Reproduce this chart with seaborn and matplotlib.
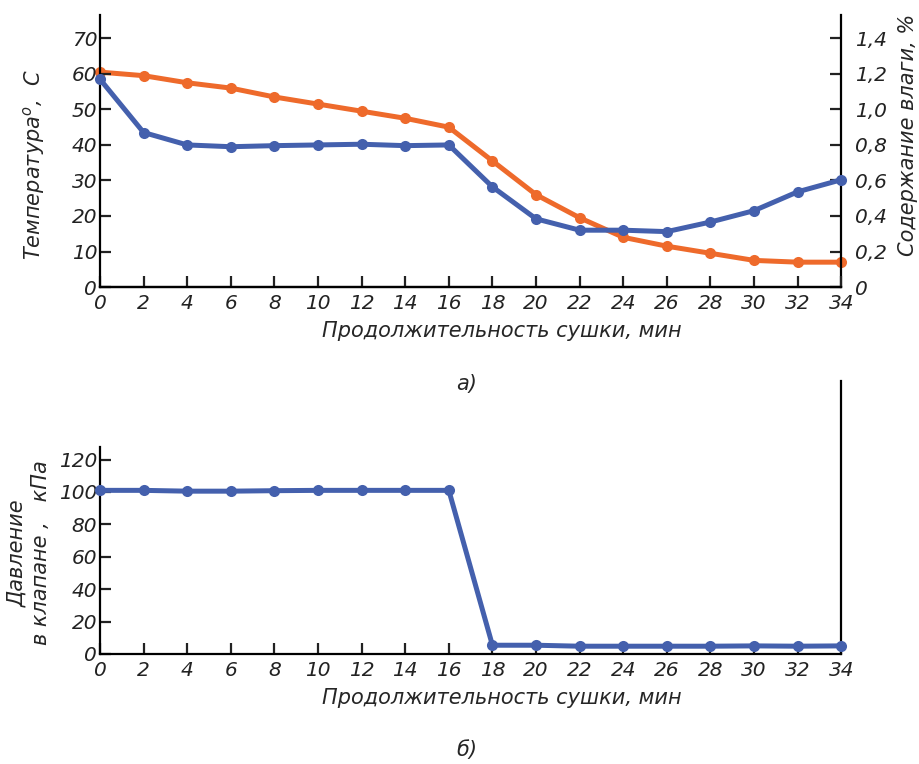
import numpy as np
import pandas as pd
import seaborn as sns
import matplotlib.pyplot as plt
from matplotlib.ticker import FuncFormatter

# Drying time, min
minutes = [0, 2, 4, 6, 8, 10, 12, 14, 16, 18, 20, 22, 24, 26, 28, 30, 32, 34]

# Top panel: temperature (left axis) and moisture content (right axis)
temperature = [58.5, 43.5, 40.0, 39.5, 39.8, 40.0, 40.2, 39.8, 40.0,
               28.2, 19.2, 16.0, 16.0, 15.6, 18.3, 21.5, 26.8, 30.2]
moisture = [1.21, 1.19, 1.15, 1.12, 1.07, 1.03, 0.99, 0.95, 0.90,
            0.71, 0.52, 0.39, 0.28, 0.23, 0.19, 0.15, 0.14, 0.14]

# Bottom panel: valve pressure, kPa
pressure = [101, 101, 100.5, 100.5, 100.8, 101, 101, 101, 101,
            5.4, 5.4, 4.8, 4.8, 4.8, 4.8, 5.0, 4.8, 5.0]

temp_ticks = [0, 10, 20, 30, 40, 50, 60, 70]
moist_ticks = [0, 0.2, 0.4, 0.6, 0.8, 1.0, 1.2, 1.4]
press_ticks = [0, 20, 40, 60, 80, 100, 120]

blue = "#4460ad"
orange = "#ee6a2b"
fs = 14.5
lfs = 15

sns.set_style("ticks")
plt.rcParams["font.family"] = ["DejaVu Sans"]
plt.rcParams["font.style"] = "italic"
plt.rcParams["mathtext.fontset"] = "dejavusans"

df = pd.DataFrame({"t": minutes, "temp": temperature,
                   "moist": moisture, "press": pressure})

fig = plt.figure(figsize=(9.2, 7.64), dpi=100)
ax_top = fig.add_axes([0.1087, 0.6243, 0.8057, 0.3557])
ax_bot = fig.add_axes([0.1087, 0.1440, 0.8057, 0.3573])

line_kw = dict(marker="o", linewidth=3.6, markersize=8, markeredgewidth=0,
               legend=False, clip_on=False)

# ---- top panel ----
sns.lineplot(data=df, x="t", y="temp", color=blue, ax=ax_top, zorder=3, **line_kw)
ax_r = ax_top.twinx()
sns.lineplot(data=df, x="t", y="moist", color=orange, ax=ax_r, zorder=2, **line_kw)
ax_top.set_zorder(ax_r.get_zorder() + 1)
ax_top.patch.set_visible(False)

ax_top.set_xlim(0, 34)
ax_top.set_ylim(0, 76.5)
ax_r.set_ylim(0, 1.53)
ax_top.set_xticks(minutes)
ax_top.set_yticks(temp_ticks)
ax_r.set_yticks(moist_ticks)
ax_r.yaxis.set_major_formatter(
    FuncFormatter(lambda v, p: "0" if v == 0 else f"{v:.1f}".replace(".", ",")))

for a in (ax_top, ax_r):
    a.spines["top"].set_visible(False)
    for s in a.spines.values():
        s.set_linewidth(1.6)
        s.set_color("black")
ax_top.spines["right"].set_visible(False)
ax_r.spines["left"].set_visible(False)

ax_top.tick_params(axis="both", direction="in", length=8, width=1.6,
                   labelsize=fs, colors="#222222", pad=5)
ax_top.tick_params(axis="y", pad=2)
ax_r.tick_params(axis="y", direction="in", length=8, width=1.6,
                 labelsize=fs, colors="#222222", pad=10)

ax_top.set_xlabel("Продолжительность сушки, мин", fontsize=lfs, labelpad=6, x=0.542)
ax_top.set_ylabel(r"Температура$^{o}$,  C", fontsize=lfs, labelpad=18, y=0.45)
ax_r.set_ylabel("Содержание влаги, %", fontsize=lfs, labelpad=8, y=0.56)

fig.text(0.507, 0.497, "а)", fontsize=lfs, ha="center", va="center")

# ---- bottom panel ----
sns.lineplot(data=df, x="t", y="press", color=blue, ax=ax_bot, zorder=3, **line_kw)
ax_bot.set_xlim(0, 34)
ax_bot.set_ylim(0, 168.5)
ax_bot.set_xticks(minutes)
ax_bot.set_yticks(press_ticks)
ax_bot.spines["top"].set_visible(False)
for s in ax_bot.spines.values():
    s.set_linewidth(1.6)
    s.set_color("black")
ax_bot.spines["left"].set_bounds(0, 128)
ax_bot.tick_params(axis="both", direction="in", length=8, width=1.6,
                   labelsize=fs, colors="#222222", pad=5)
ax_bot.tick_params(axis="y", pad=2)
ax_bot.set_xlabel("Продолжительность сушки, мин", fontsize=lfs, labelpad=6, x=0.542)
ax_bot.set_ylabel("Давление\nв клапане ,   кПа", fontsize=lfs, labelpad=6,
                  y=0.37)

fig.text(0.507, 0.018, "б)", fontsize=lfs, ha="center", va="center")

fig.savefig("out.png", dpi=100)
